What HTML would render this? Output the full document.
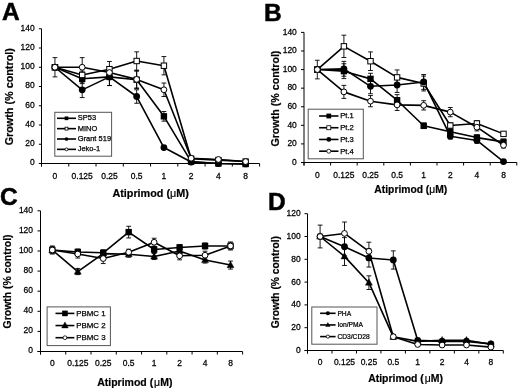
<!DOCTYPE html>
<html><head><meta charset="utf-8"><style>
html,body{margin:0;padding:0;background:#fff;}
svg{display:block;font-family:"Liberation Sans", sans-serif;}
svg{filter:grayscale(1);}
</style></head><body>
<svg width="520" height="391" viewBox="0 0 520 391" fill="#000">
<rect width="520" height="391" fill="#fff"/>
<line x1="41.5" y1="28.75" x2="41.5" y2="166.5" stroke="#000" stroke-width="1"/>
<line x1="38.9" y1="163.5" x2="259.6" y2="163.5" stroke="#000" stroke-width="1"/>
<line x1="38.9" y1="163.5" x2="41.5" y2="163.5" stroke="#000" stroke-width="1"/>
<text transform="translate(34.6,165.4) scale(1.02,1)" font-size="8.3" text-anchor="end" font-weight="normal" stroke="#000" stroke-width="0.25" >0</text>
<line x1="38.9" y1="144.25" x2="41.5" y2="144.25" stroke="#000" stroke-width="1"/>
<text transform="translate(34.6,146.15) scale(1.02,1)" font-size="8.3" text-anchor="end" font-weight="normal" stroke="#000" stroke-width="0.25" >20</text>
<line x1="38.9" y1="125" x2="41.5" y2="125" stroke="#000" stroke-width="1"/>
<text transform="translate(34.6,126.9) scale(1.02,1)" font-size="8.3" text-anchor="end" font-weight="normal" stroke="#000" stroke-width="0.25" >40</text>
<line x1="38.9" y1="105.75" x2="41.5" y2="105.75" stroke="#000" stroke-width="1"/>
<text transform="translate(34.6,107.65) scale(1.02,1)" font-size="8.3" text-anchor="end" font-weight="normal" stroke="#000" stroke-width="0.25" >60</text>
<line x1="38.9" y1="86.5" x2="41.5" y2="86.5" stroke="#000" stroke-width="1"/>
<text transform="translate(34.6,88.4) scale(1.02,1)" font-size="8.3" text-anchor="end" font-weight="normal" stroke="#000" stroke-width="0.25" >80</text>
<line x1="38.9" y1="67.25" x2="41.5" y2="67.25" stroke="#000" stroke-width="1"/>
<text transform="translate(34.6,69.15) scale(1.02,1)" font-size="8.3" text-anchor="end" font-weight="normal" stroke="#000" stroke-width="0.25" >100</text>
<line x1="38.9" y1="48" x2="41.5" y2="48" stroke="#000" stroke-width="1"/>
<text transform="translate(34.6,49.9) scale(1.02,1)" font-size="8.3" text-anchor="end" font-weight="normal" stroke="#000" stroke-width="0.25" >120</text>
<line x1="38.9" y1="28.75" x2="41.5" y2="28.75" stroke="#000" stroke-width="1"/>
<text transform="translate(34.6,30.65) scale(1.02,1)" font-size="8.3" text-anchor="end" font-weight="normal" stroke="#000" stroke-width="0.25" >140</text>
<line x1="41.5" y1="163.5" x2="41.5" y2="166.5" stroke="#000" stroke-width="1"/>
<line x1="68.76" y1="163.5" x2="68.76" y2="166.5" stroke="#000" stroke-width="1"/>
<line x1="96.03" y1="163.5" x2="96.03" y2="166.5" stroke="#000" stroke-width="1"/>
<line x1="123.29" y1="163.5" x2="123.29" y2="166.5" stroke="#000" stroke-width="1"/>
<line x1="150.55" y1="163.5" x2="150.55" y2="166.5" stroke="#000" stroke-width="1"/>
<line x1="177.81" y1="163.5" x2="177.81" y2="166.5" stroke="#000" stroke-width="1"/>
<line x1="205.08" y1="163.5" x2="205.08" y2="166.5" stroke="#000" stroke-width="1"/>
<line x1="232.34" y1="163.5" x2="232.34" y2="166.5" stroke="#000" stroke-width="1"/>
<line x1="259.6" y1="163.5" x2="259.6" y2="166.5" stroke="#000" stroke-width="1"/>
<text transform="translate(54.95,178.5) scale(1.02,1)" font-size="8.3" text-anchor="middle" font-weight="normal" stroke="#000" stroke-width="0.25" >0</text>
<text transform="translate(82.19,178.5) scale(1.02,1)" font-size="8.3" text-anchor="middle" font-weight="normal" stroke="#000" stroke-width="0.25" >0.125</text>
<text transform="translate(109.43,178.5) scale(1.02,1)" font-size="8.3" text-anchor="middle" font-weight="normal" stroke="#000" stroke-width="0.25" >0.25</text>
<text transform="translate(136.67,178.5) scale(1.02,1)" font-size="8.3" text-anchor="middle" font-weight="normal" stroke="#000" stroke-width="0.25" >0.5</text>
<text transform="translate(163.91,178.5) scale(1.02,1)" font-size="8.3" text-anchor="middle" font-weight="normal" stroke="#000" stroke-width="0.25" >1</text>
<text transform="translate(191.15,178.5) scale(1.02,1)" font-size="8.3" text-anchor="middle" font-weight="normal" stroke="#000" stroke-width="0.25" >2</text>
<text transform="translate(218.39,178.5) scale(1.02,1)" font-size="8.3" text-anchor="middle" font-weight="normal" stroke="#000" stroke-width="0.25" >4</text>
<text transform="translate(245.63,178.5) scale(1.02,1)" font-size="8.3" text-anchor="middle" font-weight="normal" stroke="#000" stroke-width="0.25" >8</text>
<text transform="translate(150.6,197.3) scale(1,1)" font-size="10.8" text-anchor="middle" font-weight="bold" stroke="#000" stroke-width="0.2" >Atiprimod (<tspan font-weight="normal">&#956;</tspan>M)</text>
<text transform="translate(13,96.75) rotate(-90) scale(1,1)" font-size="10.8" text-anchor="middle" font-weight="bold" stroke="#000" stroke-width="0.2">Growth (% control)</text>
<text transform="translate(2,19.6) scale(1,1)" font-size="24.5" text-anchor="start" font-weight="bold" stroke="#000" stroke-width="0.5">A</text>
<polyline points="54.95,67.25 82.19,78.8 109.43,76.88 136.67,79.76 163.91,116.34 191.15,161.57 218.39,163.5 245.63,163.98" fill="none" stroke="#000" stroke-width="1.6" stroke-linejoin="round"/>
<polyline points="54.95,67.25 82.19,74.95 109.43,69.17 136.67,60.99 163.91,65.71 191.15,158.69 218.39,160.13 245.63,161.57" fill="none" stroke="#000" stroke-width="1.6" stroke-linejoin="round"/>
<polyline points="54.95,67.25 82.19,89.87 109.43,76.88 136.67,96.51 163.91,147.52 191.15,162.06 218.39,163.5 245.63,163.98" fill="none" stroke="#000" stroke-width="1.6" stroke-linejoin="round"/>
<polyline points="54.95,67.25 82.19,67.25 109.43,72.54 136.67,79.38 163.91,89.77 191.15,158.21 218.39,159.46 245.63,161.57" fill="none" stroke="#000" stroke-width="1.6" stroke-linejoin="round"/>
<path d="M82.19,73.99V83.61M79.79,73.99H84.59M79.79,83.61H84.59" stroke="#000" stroke-width="0.9" fill="none"/>
<path d="M109.43,68.21V85.54M107.03,68.21H111.83M107.03,85.54H111.83" stroke="#000" stroke-width="0.9" fill="none"/>
<path d="M136.67,71.1V88.42M134.27,71.1H139.07M134.27,88.42H139.07" stroke="#000" stroke-width="0.9" fill="none"/>
<path d="M163.91,111.53V121.15M161.51,111.53H166.31M161.51,121.15H166.31" stroke="#000" stroke-width="0.9" fill="none"/>
<path d="M82.19,71.1V78.8M79.79,71.1H84.59M79.79,78.8H84.59" stroke="#000" stroke-width="0.9" fill="none"/>
<path d="M109.43,61.47V76.88M107.03,61.47H111.83M107.03,76.88H111.83" stroke="#000" stroke-width="0.9" fill="none"/>
<path d="M136.67,51.85V70.14M134.27,51.85H139.07M134.27,70.14H139.07" stroke="#000" stroke-width="0.9" fill="none"/>
<path d="M163.91,56.57V74.85M161.51,56.57H166.31M161.51,74.85H166.31" stroke="#000" stroke-width="0.9" fill="none"/>
<path d="M82.19,82.17V97.57M79.79,82.17H84.59M79.79,97.57H84.59" stroke="#000" stroke-width="0.9" fill="none"/>
<path d="M109.43,68.21V85.54M107.03,68.21H111.83M107.03,85.54H111.83" stroke="#000" stroke-width="0.9" fill="none"/>
<path d="M136.67,89.77V103.25M134.27,89.77H139.07M134.27,103.25H139.07" stroke="#000" stroke-width="0.9" fill="none"/>
<path d="M163.91,145.6V149.45M161.51,145.6H166.31M161.51,149.45H166.31" stroke="#000" stroke-width="0.9" fill="none"/>
<path d="M54.95,57.62V76.88M52.55,57.62H57.35M52.55,76.88H57.35" stroke="#000" stroke-width="0.9" fill="none"/>
<path d="M82.19,57.62V76.88M79.79,57.62H84.59M79.79,76.88H84.59" stroke="#000" stroke-width="0.9" fill="none"/>
<path d="M109.43,66.77V78.32M107.03,66.77H111.83M107.03,78.32H111.83" stroke="#000" stroke-width="0.9" fill="none"/>
<path d="M136.67,70.71V88.04M134.27,70.71H139.07M134.27,88.04H139.07" stroke="#000" stroke-width="0.9" fill="none"/>
<path d="M163.91,83.03V96.51M161.51,83.03H166.31M161.51,96.51H166.31" stroke="#000" stroke-width="0.9" fill="none"/>
<rect x="51.75" y="64.05" width="6.4" height="6.4" fill="#000"/>
<rect x="78.99" y="75.6" width="6.4" height="6.4" fill="#000"/>
<rect x="106.23" y="73.67" width="6.4" height="6.4" fill="#000"/>
<rect x="133.47" y="76.56" width="6.4" height="6.4" fill="#000"/>
<rect x="160.71" y="113.14" width="6.4" height="6.4" fill="#000"/>
<rect x="187.95" y="158.38" width="6.4" height="6.4" fill="#000"/>
<rect x="215.19" y="160.3" width="6.4" height="6.4" fill="#000"/>
<rect x="242.43" y="160.78" width="6.4" height="6.4" fill="#000"/>
<rect x="52.25" y="64.55" width="5.4" height="5.4" fill="#fff" stroke="#000" stroke-width="1.0"/>
<rect x="79.49" y="72.25" width="5.4" height="5.4" fill="#fff" stroke="#000" stroke-width="1.0"/>
<rect x="106.73" y="66.47" width="5.4" height="5.4" fill="#fff" stroke="#000" stroke-width="1.0"/>
<rect x="133.97" y="58.29" width="5.4" height="5.4" fill="#fff" stroke="#000" stroke-width="1.0"/>
<rect x="161.21" y="63.01" width="5.4" height="5.4" fill="#fff" stroke="#000" stroke-width="1.0"/>
<rect x="188.45" y="155.99" width="5.4" height="5.4" fill="#fff" stroke="#000" stroke-width="1.0"/>
<rect x="215.69" y="157.43" width="5.4" height="5.4" fill="#fff" stroke="#000" stroke-width="1.0"/>
<rect x="242.93" y="158.88" width="5.4" height="5.4" fill="#fff" stroke="#000" stroke-width="1.0"/>
<circle cx="54.95" cy="67.25" r="3.39" fill="#000"/>
<circle cx="82.19" cy="89.87" r="3.39" fill="#000"/>
<circle cx="109.43" cy="76.88" r="3.39" fill="#000"/>
<circle cx="136.67" cy="96.51" r="3.39" fill="#000"/>
<circle cx="163.91" cy="147.52" r="3.39" fill="#000"/>
<circle cx="191.15" cy="162.06" r="3.39" fill="#000"/>
<circle cx="218.39" cy="163.5" r="3.39" fill="#000"/>
<circle cx="245.63" cy="163.98" r="3.39" fill="#000"/>
<circle cx="54.95" cy="67.25" r="2.89" fill="#fff" stroke="#000" stroke-width="1.0"/>
<circle cx="82.19" cy="67.25" r="2.89" fill="#fff" stroke="#000" stroke-width="1.0"/>
<circle cx="109.43" cy="72.54" r="2.89" fill="#fff" stroke="#000" stroke-width="1.0"/>
<circle cx="136.67" cy="79.38" r="2.89" fill="#fff" stroke="#000" stroke-width="1.0"/>
<circle cx="163.91" cy="89.77" r="2.89" fill="#fff" stroke="#000" stroke-width="1.0"/>
<circle cx="191.15" cy="158.21" r="2.89" fill="#fff" stroke="#000" stroke-width="1.0"/>
<circle cx="218.39" cy="159.46" r="2.89" fill="#fff" stroke="#000" stroke-width="1.0"/>
<circle cx="245.63" cy="161.57" r="2.89" fill="#fff" stroke="#000" stroke-width="1.0"/>
<rect x="54.8" y="112.3" width="56.8" height="43.9" fill="#fff" stroke="#555" stroke-width="1"/>
<line x1="57" y1="118.3" x2="76" y2="118.3" stroke="#000" stroke-width="1.6"/>
<rect x="64.65" y="116.45" width="3.7" height="3.7" fill="#000"/>
<text transform="translate(77.7,120.4) scale(1,1)" font-size="7.5" text-anchor="start" font-weight="normal" stroke="#000" stroke-width="0.25" >SP53</text>
<line x1="57" y1="128.65" x2="76" y2="128.65" stroke="#000" stroke-width="1.6"/>
<rect x="65.05" y="127.2" width="2.9" height="2.9" fill="#fff" stroke="#000" stroke-width="0.8"/>
<text transform="translate(77.7,130.75) scale(1,1)" font-size="7.5" text-anchor="start" font-weight="normal" stroke="#000" stroke-width="0.25" >MINO</text>
<line x1="57" y1="139" x2="76" y2="139" stroke="#000" stroke-width="1.6"/>
<circle cx="66.5" cy="139" r="1.85" fill="#000"/>
<text transform="translate(77.7,141.1) scale(1,1)" font-size="7.5" text-anchor="start" font-weight="normal" stroke="#000" stroke-width="0.25" >Grant 519</text>
<line x1="57" y1="149.35" x2="76" y2="149.35" stroke="#000" stroke-width="1.6"/>
<circle cx="66.5" cy="149.35" r="1.45" fill="#fff" stroke="#000" stroke-width="0.8"/>
<text transform="translate(77.7,151.45) scale(1,1)" font-size="7.5" text-anchor="start" font-weight="normal" stroke="#000" stroke-width="0.25" >Jeko-1</text>
<line x1="304" y1="32.4" x2="304" y2="165.5" stroke="#000" stroke-width="1"/>
<line x1="301" y1="162.5" x2="516.8" y2="162.5" stroke="#000" stroke-width="1"/>
<line x1="301" y1="162.5" x2="304" y2="162.5" stroke="#000" stroke-width="1"/>
<text transform="translate(296.8,164.7) scale(1.02,1)" font-size="8.3" text-anchor="end" font-weight="normal" stroke="#000" stroke-width="0.25" >0</text>
<line x1="301" y1="143.91" x2="304" y2="143.91" stroke="#000" stroke-width="1"/>
<text transform="translate(296.8,146.11) scale(1.02,1)" font-size="8.3" text-anchor="end" font-weight="normal" stroke="#000" stroke-width="0.25" >20</text>
<line x1="301" y1="125.33" x2="304" y2="125.33" stroke="#000" stroke-width="1"/>
<text transform="translate(296.8,127.53) scale(1.02,1)" font-size="8.3" text-anchor="end" font-weight="normal" stroke="#000" stroke-width="0.25" >40</text>
<line x1="301" y1="106.74" x2="304" y2="106.74" stroke="#000" stroke-width="1"/>
<text transform="translate(296.8,108.94) scale(1.02,1)" font-size="8.3" text-anchor="end" font-weight="normal" stroke="#000" stroke-width="0.25" >60</text>
<line x1="301" y1="88.16" x2="304" y2="88.16" stroke="#000" stroke-width="1"/>
<text transform="translate(296.8,90.36) scale(1.02,1)" font-size="8.3" text-anchor="end" font-weight="normal" stroke="#000" stroke-width="0.25" >80</text>
<line x1="301" y1="69.57" x2="304" y2="69.57" stroke="#000" stroke-width="1"/>
<text transform="translate(296.8,71.77) scale(1.02,1)" font-size="8.3" text-anchor="end" font-weight="normal" stroke="#000" stroke-width="0.25" >100</text>
<line x1="301" y1="50.98" x2="304" y2="50.98" stroke="#000" stroke-width="1"/>
<text transform="translate(296.8,53.18) scale(1.02,1)" font-size="8.3" text-anchor="end" font-weight="normal" stroke="#000" stroke-width="0.25" >120</text>
<line x1="301" y1="32.4" x2="304" y2="32.4" stroke="#000" stroke-width="1"/>
<text transform="translate(296.8,34.6) scale(1.02,1)" font-size="8.3" text-anchor="end" font-weight="normal" stroke="#000" stroke-width="0.25" >140</text>
<line x1="304" y1="162.5" x2="304" y2="165.5" stroke="#000" stroke-width="1"/>
<line x1="330.6" y1="162.5" x2="330.6" y2="165.5" stroke="#000" stroke-width="1"/>
<line x1="357.2" y1="162.5" x2="357.2" y2="165.5" stroke="#000" stroke-width="1"/>
<line x1="383.8" y1="162.5" x2="383.8" y2="165.5" stroke="#000" stroke-width="1"/>
<line x1="410.4" y1="162.5" x2="410.4" y2="165.5" stroke="#000" stroke-width="1"/>
<line x1="437" y1="162.5" x2="437" y2="165.5" stroke="#000" stroke-width="1"/>
<line x1="463.6" y1="162.5" x2="463.6" y2="165.5" stroke="#000" stroke-width="1"/>
<line x1="490.2" y1="162.5" x2="490.2" y2="165.5" stroke="#000" stroke-width="1"/>
<line x1="516.8" y1="162.5" x2="516.8" y2="165.5" stroke="#000" stroke-width="1"/>
<text transform="translate(317.3,177.8) scale(1.02,1)" font-size="8.3" text-anchor="middle" font-weight="normal" stroke="#000" stroke-width="0.25" >0</text>
<text transform="translate(343.9,177.8) scale(1.02,1)" font-size="8.3" text-anchor="middle" font-weight="normal" stroke="#000" stroke-width="0.25" >0.125</text>
<text transform="translate(370.5,177.8) scale(1.02,1)" font-size="8.3" text-anchor="middle" font-weight="normal" stroke="#000" stroke-width="0.25" >0.25</text>
<text transform="translate(397.1,177.8) scale(1.02,1)" font-size="8.3" text-anchor="middle" font-weight="normal" stroke="#000" stroke-width="0.25" >0.5</text>
<text transform="translate(423.7,177.8) scale(1.02,1)" font-size="8.3" text-anchor="middle" font-weight="normal" stroke="#000" stroke-width="0.25" >1</text>
<text transform="translate(450.3,177.8) scale(1.02,1)" font-size="8.3" text-anchor="middle" font-weight="normal" stroke="#000" stroke-width="0.25" >2</text>
<text transform="translate(476.9,177.8) scale(1.02,1)" font-size="8.3" text-anchor="middle" font-weight="normal" stroke="#000" stroke-width="0.25" >4</text>
<text transform="translate(503.5,177.8) scale(1.02,1)" font-size="8.3" text-anchor="middle" font-weight="normal" stroke="#000" stroke-width="0.25" >8</text>
<text transform="translate(410.8,193.3) scale(1,1)" font-size="10.3" text-anchor="middle" font-weight="bold" stroke="#000" stroke-width="0.2" >Atiprimod (<tspan font-weight="normal">&#956;</tspan>M)</text>
<text transform="translate(278.9,98.6) rotate(-90) scale(1,1)" font-size="10.68" text-anchor="middle" font-weight="bold" stroke="#000" stroke-width="0.2">Growth (% control)</text>
<text transform="translate(264,20.7) scale(1,1)" font-size="24.5" text-anchor="start" font-weight="bold" stroke="#000" stroke-width="0.5">B</text>
<polyline points="317.3,69.57 343.9,71.15 370.5,78.86 397.1,100.24 423.7,125.79 450.3,131.83 476.9,137.59 503.5,141.87" fill="none" stroke="#000" stroke-width="1.6" stroke-linejoin="round"/>
<polyline points="317.3,69.57 343.9,46.34 370.5,61.21 397.1,77.38 423.7,83.51 450.3,125.51 476.9,123.47 503.5,133.88" fill="none" stroke="#000" stroke-width="1.6" stroke-linejoin="round"/>
<polyline points="317.3,69.57 343.9,68.83 370.5,86.3 397.1,85 423.7,81.93 450.3,136.2 476.9,140.48 503.5,161.57" fill="none" stroke="#000" stroke-width="1.6" stroke-linejoin="round"/>
<polyline points="317.3,69.57 343.9,91.87 370.5,101.17 397.1,104.88 423.7,105.35 450.3,112.13 476.9,127.19 503.5,145.22" fill="none" stroke="#000" stroke-width="1.6" stroke-linejoin="round"/>
<path d="M343.9,63.72V78.58M341.5,63.72H346.3M341.5,78.58H346.3" stroke="#000" stroke-width="0.9" fill="none"/>
<path d="M370.5,73.29V84.44M368.1,73.29H372.9M368.1,84.44H372.9" stroke="#000" stroke-width="0.9" fill="none"/>
<path d="M397.1,94.66V105.81M394.7,94.66H399.5M394.7,105.81H399.5" stroke="#000" stroke-width="0.9" fill="none"/>
<path d="M423.7,123V128.58M421.3,123H426.1M421.3,128.58H426.1" stroke="#000" stroke-width="0.9" fill="none"/>
<path d="M450.3,129.05V134.62M447.9,129.05H452.7M447.9,134.62H452.7" stroke="#000" stroke-width="0.9" fill="none"/>
<path d="M476.9,134.81V140.38M474.5,134.81H479.3M474.5,140.38H479.3" stroke="#000" stroke-width="0.9" fill="none"/>
<path d="M503.5,139.08V144.66M501.1,139.08H505.9M501.1,144.66H505.9" stroke="#000" stroke-width="0.9" fill="none"/>
<path d="M343.9,35.19V57.49M341.5,35.19H346.3M341.5,57.49H346.3" stroke="#000" stroke-width="0.9" fill="none"/>
<path d="M370.5,51.91V70.5M368.1,51.91H372.9M368.1,70.5H372.9" stroke="#000" stroke-width="0.9" fill="none"/>
<path d="M397.1,69.94V84.81M394.7,69.94H399.5M394.7,84.81H399.5" stroke="#000" stroke-width="0.9" fill="none"/>
<path d="M423.7,76.08V90.94M421.3,76.08H426.1M421.3,90.94H426.1" stroke="#000" stroke-width="0.9" fill="none"/>
<path d="M450.3,122.73V128.3M447.9,122.73H452.7M447.9,128.3H452.7" stroke="#000" stroke-width="0.9" fill="none"/>
<path d="M476.9,120.68V126.26M474.5,120.68H479.3M474.5,126.26H479.3" stroke="#000" stroke-width="0.9" fill="none"/>
<path d="M503.5,132.02V135.74M501.1,132.02H505.9M501.1,135.74H505.9" stroke="#000" stroke-width="0.9" fill="none"/>
<path d="M343.9,61.39V76.26M341.5,61.39H346.3M341.5,76.26H346.3" stroke="#000" stroke-width="0.9" fill="none"/>
<path d="M370.5,78.86V93.73M368.1,78.86H372.9M368.1,93.73H372.9" stroke="#000" stroke-width="0.9" fill="none"/>
<path d="M397.1,77.56V92.43M394.7,77.56H399.5M394.7,92.43H399.5" stroke="#000" stroke-width="0.9" fill="none"/>
<path d="M423.7,74.5V89.36M421.3,74.5H426.1M421.3,89.36H426.1" stroke="#000" stroke-width="0.9" fill="none"/>
<path d="M450.3,133.41V138.99M447.9,133.41H452.7M447.9,138.99H452.7" stroke="#000" stroke-width="0.9" fill="none"/>
<path d="M476.9,137.69V143.26M474.5,137.69H479.3M474.5,143.26H479.3" stroke="#000" stroke-width="0.9" fill="none"/>
<path d="M503.5,160.64V162.5M501.1,160.64H505.9M501.1,162.5H505.9" stroke="#000" stroke-width="0.9" fill="none"/>
<path d="M317.3,60.28V78.86M314.9,60.28H319.7M314.9,78.86H319.7" stroke="#000" stroke-width="0.9" fill="none"/>
<path d="M343.9,85.37V98.38M341.5,85.37H346.3M341.5,98.38H346.3" stroke="#000" stroke-width="0.9" fill="none"/>
<path d="M370.5,95.59V106.74M368.1,95.59H372.9M368.1,106.74H372.9" stroke="#000" stroke-width="0.9" fill="none"/>
<path d="M397.1,99.31V110.46M394.7,99.31H399.5M394.7,110.46H399.5" stroke="#000" stroke-width="0.9" fill="none"/>
<path d="M423.7,100.7V109.99M421.3,100.7H426.1M421.3,109.99H426.1" stroke="#000" stroke-width="0.9" fill="none"/>
<path d="M450.3,107.49V116.78M447.9,107.49H452.7M447.9,116.78H452.7" stroke="#000" stroke-width="0.9" fill="none"/>
<path d="M476.9,123.47V130.9M474.5,123.47H479.3M474.5,130.9H479.3" stroke="#000" stroke-width="0.9" fill="none"/>
<path d="M503.5,142.43V148M501.1,142.43H505.9M501.1,148H505.9" stroke="#000" stroke-width="0.9" fill="none"/>
<rect x="314.1" y="66.37" width="6.4" height="6.4" fill="#000"/>
<rect x="340.7" y="67.95" width="6.4" height="6.4" fill="#000"/>
<rect x="367.3" y="75.66" width="6.4" height="6.4" fill="#000"/>
<rect x="393.9" y="97.04" width="6.4" height="6.4" fill="#000"/>
<rect x="420.5" y="122.59" width="6.4" height="6.4" fill="#000"/>
<rect x="447.1" y="128.63" width="6.4" height="6.4" fill="#000"/>
<rect x="473.7" y="134.39" width="6.4" height="6.4" fill="#000"/>
<rect x="500.3" y="138.67" width="6.4" height="6.4" fill="#000"/>
<rect x="314.6" y="66.87" width="5.4" height="5.4" fill="#fff" stroke="#000" stroke-width="1.0"/>
<rect x="341.2" y="43.64" width="5.4" height="5.4" fill="#fff" stroke="#000" stroke-width="1.0"/>
<rect x="367.8" y="58.51" width="5.4" height="5.4" fill="#fff" stroke="#000" stroke-width="1.0"/>
<rect x="394.4" y="74.68" width="5.4" height="5.4" fill="#fff" stroke="#000" stroke-width="1.0"/>
<rect x="421" y="80.81" width="5.4" height="5.4" fill="#fff" stroke="#000" stroke-width="1.0"/>
<rect x="447.6" y="122.81" width="5.4" height="5.4" fill="#fff" stroke="#000" stroke-width="1.0"/>
<rect x="474.2" y="120.77" width="5.4" height="5.4" fill="#fff" stroke="#000" stroke-width="1.0"/>
<rect x="500.8" y="131.18" width="5.4" height="5.4" fill="#fff" stroke="#000" stroke-width="1.0"/>
<circle cx="317.3" cy="69.57" r="3.39" fill="#000"/>
<circle cx="343.9" cy="68.83" r="3.39" fill="#000"/>
<circle cx="370.5" cy="86.3" r="3.39" fill="#000"/>
<circle cx="397.1" cy="85" r="3.39" fill="#000"/>
<circle cx="423.7" cy="81.93" r="3.39" fill="#000"/>
<circle cx="450.3" cy="136.2" r="3.39" fill="#000"/>
<circle cx="476.9" cy="140.48" r="3.39" fill="#000"/>
<circle cx="503.5" cy="161.57" r="3.39" fill="#000"/>
<circle cx="317.3" cy="69.57" r="2.89" fill="#fff" stroke="#000" stroke-width="1.0"/>
<circle cx="343.9" cy="91.87" r="2.89" fill="#fff" stroke="#000" stroke-width="1.0"/>
<circle cx="370.5" cy="101.17" r="2.89" fill="#fff" stroke="#000" stroke-width="1.0"/>
<circle cx="397.1" cy="104.88" r="2.89" fill="#fff" stroke="#000" stroke-width="1.0"/>
<circle cx="423.7" cy="105.35" r="2.89" fill="#fff" stroke="#000" stroke-width="1.0"/>
<circle cx="450.3" cy="112.13" r="2.89" fill="#fff" stroke="#000" stroke-width="1.0"/>
<circle cx="476.9" cy="127.19" r="2.89" fill="#fff" stroke="#000" stroke-width="1.0"/>
<circle cx="503.5" cy="145.22" r="2.89" fill="#fff" stroke="#000" stroke-width="1.0"/>
<rect x="308.2" y="109.2" width="55.1" height="49.6" fill="#fff" stroke="#555" stroke-width="1"/>
<line x1="319.1" y1="116" x2="338.5" y2="116" stroke="#000" stroke-width="1.6"/>
<rect x="326.4" y="113.6" width="4.8" height="4.8" fill="#000"/>
<text transform="translate(340.3,118.4) scale(1,1)" font-size="7.6" text-anchor="start" font-weight="normal" stroke="#000" stroke-width="0.25" >Pt.1</text>
<line x1="319.1" y1="127.73" x2="338.5" y2="127.73" stroke="#000" stroke-width="1.6"/>
<rect x="326.8" y="125.73" width="4" height="4" fill="#fff" stroke="#000" stroke-width="0.8"/>
<text transform="translate(340.3,130.13) scale(1,1)" font-size="7.6" text-anchor="start" font-weight="normal" stroke="#000" stroke-width="0.25" >Pt.2</text>
<line x1="319.1" y1="139.46" x2="338.5" y2="139.46" stroke="#000" stroke-width="1.6"/>
<circle cx="328.8" cy="139.46" r="2.4" fill="#000"/>
<text transform="translate(340.3,141.86) scale(1,1)" font-size="7.6" text-anchor="start" font-weight="normal" stroke="#000" stroke-width="0.25" >Pt.3</text>
<line x1="319.1" y1="151.19" x2="338.5" y2="151.19" stroke="#000" stroke-width="1.6"/>
<circle cx="328.8" cy="151.19" r="2" fill="#fff" stroke="#000" stroke-width="0.8"/>
<text transform="translate(340.3,153.59) scale(1,1)" font-size="7.6" text-anchor="start" font-weight="normal" stroke="#000" stroke-width="0.25" >Pt.4</text>
<line x1="40.5" y1="210.8" x2="40.5" y2="354.5" stroke="#000" stroke-width="1"/>
<line x1="37.5" y1="351.5" x2="242.6" y2="351.5" stroke="#000" stroke-width="1"/>
<line x1="37.5" y1="351.5" x2="40.5" y2="351.5" stroke="#000" stroke-width="1"/>
<text transform="translate(33,353.4) scale(1.02,1)" font-size="8.3" text-anchor="end" font-weight="normal" stroke="#000" stroke-width="0.25" >0</text>
<line x1="37.5" y1="331.4" x2="40.5" y2="331.4" stroke="#000" stroke-width="1"/>
<text transform="translate(33,333.3) scale(1.02,1)" font-size="8.3" text-anchor="end" font-weight="normal" stroke="#000" stroke-width="0.25" >20</text>
<line x1="37.5" y1="311.3" x2="40.5" y2="311.3" stroke="#000" stroke-width="1"/>
<text transform="translate(33,313.2) scale(1.02,1)" font-size="8.3" text-anchor="end" font-weight="normal" stroke="#000" stroke-width="0.25" >40</text>
<line x1="37.5" y1="291.2" x2="40.5" y2="291.2" stroke="#000" stroke-width="1"/>
<text transform="translate(33,293.1) scale(1.02,1)" font-size="8.3" text-anchor="end" font-weight="normal" stroke="#000" stroke-width="0.25" >60</text>
<line x1="37.5" y1="271.1" x2="40.5" y2="271.1" stroke="#000" stroke-width="1"/>
<text transform="translate(33,273) scale(1.02,1)" font-size="8.3" text-anchor="end" font-weight="normal" stroke="#000" stroke-width="0.25" >80</text>
<line x1="37.5" y1="251" x2="40.5" y2="251" stroke="#000" stroke-width="1"/>
<text transform="translate(33,252.9) scale(1.02,1)" font-size="8.3" text-anchor="end" font-weight="normal" stroke="#000" stroke-width="0.25" >100</text>
<line x1="37.5" y1="230.9" x2="40.5" y2="230.9" stroke="#000" stroke-width="1"/>
<text transform="translate(33,232.8) scale(1.02,1)" font-size="8.3" text-anchor="end" font-weight="normal" stroke="#000" stroke-width="0.25" >120</text>
<line x1="37.5" y1="210.8" x2="40.5" y2="210.8" stroke="#000" stroke-width="1"/>
<text transform="translate(33,212.7) scale(1.02,1)" font-size="8.3" text-anchor="end" font-weight="normal" stroke="#000" stroke-width="0.25" >140</text>
<line x1="40.5" y1="351.5" x2="40.5" y2="354.5" stroke="#000" stroke-width="1"/>
<line x1="65.76" y1="351.5" x2="65.76" y2="354.5" stroke="#000" stroke-width="1"/>
<line x1="91.03" y1="351.5" x2="91.03" y2="354.5" stroke="#000" stroke-width="1"/>
<line x1="116.29" y1="351.5" x2="116.29" y2="354.5" stroke="#000" stroke-width="1"/>
<line x1="141.55" y1="351.5" x2="141.55" y2="354.5" stroke="#000" stroke-width="1"/>
<line x1="166.81" y1="351.5" x2="166.81" y2="354.5" stroke="#000" stroke-width="1"/>
<line x1="192.07" y1="351.5" x2="192.07" y2="354.5" stroke="#000" stroke-width="1"/>
<line x1="217.34" y1="351.5" x2="217.34" y2="354.5" stroke="#000" stroke-width="1"/>
<line x1="242.6" y1="351.5" x2="242.6" y2="354.5" stroke="#000" stroke-width="1"/>
<text transform="translate(52.3,366.2) scale(1.02,1)" font-size="8.3" text-anchor="middle" font-weight="normal" stroke="#000" stroke-width="0.25" >0</text>
<text transform="translate(77.76,366.2) scale(1.02,1)" font-size="8.3" text-anchor="middle" font-weight="normal" stroke="#000" stroke-width="0.25" >0.125</text>
<text transform="translate(103.22,366.2) scale(1.02,1)" font-size="8.3" text-anchor="middle" font-weight="normal" stroke="#000" stroke-width="0.25" >0.25</text>
<text transform="translate(128.68,366.2) scale(1.02,1)" font-size="8.3" text-anchor="middle" font-weight="normal" stroke="#000" stroke-width="0.25" >0.5</text>
<text transform="translate(154.14,366.2) scale(1.02,1)" font-size="8.3" text-anchor="middle" font-weight="normal" stroke="#000" stroke-width="0.25" >1</text>
<text transform="translate(179.6,366.2) scale(1.02,1)" font-size="8.3" text-anchor="middle" font-weight="normal" stroke="#000" stroke-width="0.25" >2</text>
<text transform="translate(205.06,366.2) scale(1.02,1)" font-size="8.3" text-anchor="middle" font-weight="normal" stroke="#000" stroke-width="0.25" >4</text>
<text transform="translate(230.52,366.2) scale(1.02,1)" font-size="8.3" text-anchor="middle" font-weight="normal" stroke="#000" stroke-width="0.25" >8</text>
<text transform="translate(134.8,386.3) scale(1,1)" font-size="10.5" text-anchor="middle" font-weight="bold" stroke="#000" stroke-width="0.2" >Atiprimod (&#8202;<tspan font-weight="normal">&#956;</tspan>M)</text>
<text transform="translate(10.6,281.45) rotate(-90) scale(1,1)" font-size="10.45" text-anchor="middle" font-weight="bold" stroke="#000" stroke-width="0.2">Growth (% control)</text>
<text transform="translate(0,205) scale(1,1)" font-size="24.5" text-anchor="start" font-weight="bold" stroke="#000" stroke-width="0.5">C</text>
<polyline points="52.3,250 77.76,252 103.22,252.81 128.68,232.11 154.14,249.49 179.6,247.48 205.06,245.98 230.52,245.98" fill="none" stroke="#000" stroke-width="1.6" stroke-linejoin="round"/>
<polyline points="52.3,250 77.76,271.6 103.22,253.61 128.68,254.22 154.14,256.53 179.6,251 205.06,260.05 230.52,265.07" fill="none" stroke="#000" stroke-width="1.6" stroke-linejoin="round"/>
<polyline points="52.3,250 77.76,254.02 103.22,258.54 128.68,252.21 154.14,242.26 179.6,255.82 205.06,255.22 230.52,245.98" fill="none" stroke="#000" stroke-width="1.6" stroke-linejoin="round"/>
<path d="M52.3,246.98V253.01M49.9,246.98H54.7M49.9,253.01H54.7" stroke="#000" stroke-width="0.9" fill="none"/>
<path d="M77.76,248.99V255.02M75.36,248.99H80.16M75.36,255.02H80.16" stroke="#000" stroke-width="0.9" fill="none"/>
<path d="M103.22,249.79V255.82M100.82,249.79H105.62M100.82,255.82H105.62" stroke="#000" stroke-width="0.9" fill="none"/>
<path d="M128.68,226.28V237.94M126.28,226.28H131.08M126.28,237.94H131.08" stroke="#000" stroke-width="0.9" fill="none"/>
<path d="M154.14,246.48V252.51M151.74,246.48H156.54M151.74,252.51H156.54" stroke="#000" stroke-width="0.9" fill="none"/>
<path d="M179.6,244.47V250.5M177.2,244.47H182M177.2,250.5H182" stroke="#000" stroke-width="0.9" fill="none"/>
<path d="M205.06,242.96V248.99M202.66,242.96H207.46M202.66,248.99H207.46" stroke="#000" stroke-width="0.9" fill="none"/>
<path d="M230.52,242.96V248.99M228.12,242.96H232.92M228.12,248.99H232.92" stroke="#000" stroke-width="0.9" fill="none"/>
<path d="M52.3,246.98V253.01M49.9,246.98H54.7M49.9,253.01H54.7" stroke="#000" stroke-width="0.9" fill="none"/>
<path d="M77.76,268.59V274.62M75.36,268.59H80.16M75.36,274.62H80.16" stroke="#000" stroke-width="0.9" fill="none"/>
<path d="M103.22,250.6V256.63M100.82,250.6H105.62M100.82,256.63H105.62" stroke="#000" stroke-width="0.9" fill="none"/>
<path d="M128.68,251.2V257.23M126.28,251.2H131.08M126.28,257.23H131.08" stroke="#000" stroke-width="0.9" fill="none"/>
<path d="M154.14,253.51V259.54M151.74,253.51H156.54M151.74,259.54H156.54" stroke="#000" stroke-width="0.9" fill="none"/>
<path d="M179.6,247.99V254.02M177.2,247.99H182M177.2,254.02H182" stroke="#000" stroke-width="0.9" fill="none"/>
<path d="M205.06,257.03V263.06M202.66,257.03H207.46M202.66,263.06H207.46" stroke="#000" stroke-width="0.9" fill="none"/>
<path d="M230.52,261.05V269.09M228.12,261.05H232.92M228.12,269.09H232.92" stroke="#000" stroke-width="0.9" fill="none"/>
<path d="M52.3,245.98V254.02M49.9,245.98H54.7M49.9,254.02H54.7" stroke="#000" stroke-width="0.9" fill="none"/>
<path d="M77.76,250V258.04M75.36,250H80.16M75.36,258.04H80.16" stroke="#000" stroke-width="0.9" fill="none"/>
<path d="M103.22,253.51V263.56M100.82,253.51H105.62M100.82,263.56H105.62" stroke="#000" stroke-width="0.9" fill="none"/>
<path d="M128.68,249.19V255.22M126.28,249.19H131.08M126.28,255.22H131.08" stroke="#000" stroke-width="0.9" fill="none"/>
<path d="M154.14,238.24V246.28M151.74,238.24H156.54M151.74,246.28H156.54" stroke="#000" stroke-width="0.9" fill="none"/>
<path d="M179.6,251.8V259.84M177.2,251.8H182M177.2,259.84H182" stroke="#000" stroke-width="0.9" fill="none"/>
<path d="M205.06,251.2V259.24M202.66,251.2H207.46M202.66,259.24H207.46" stroke="#000" stroke-width="0.9" fill="none"/>
<path d="M230.52,241.96V250M228.12,241.96H232.92M228.12,250H232.92" stroke="#000" stroke-width="0.9" fill="none"/>
<rect x="49.1" y="246.8" width="6.4" height="6.4" fill="#000"/>
<rect x="74.56" y="248.81" width="6.4" height="6.4" fill="#000"/>
<rect x="100.02" y="249.61" width="6.4" height="6.4" fill="#000"/>
<rect x="125.48" y="228.91" width="6.4" height="6.4" fill="#000"/>
<rect x="150.94" y="246.29" width="6.4" height="6.4" fill="#000"/>
<rect x="176.4" y="244.28" width="6.4" height="6.4" fill="#000"/>
<rect x="201.86" y="242.78" width="6.4" height="6.4" fill="#000"/>
<rect x="227.32" y="242.78" width="6.4" height="6.4" fill="#000"/>
<polygon points="52.3,246.16 55.82,252.56 48.78,252.56" fill="#000" stroke="#000" stroke-width="0.4" stroke-linejoin="round"/>
<polygon points="77.76,267.76 81.28,274.16 74.24,274.16" fill="#000" stroke="#000" stroke-width="0.4" stroke-linejoin="round"/>
<polygon points="103.22,249.77 106.74,256.17 99.7,256.17" fill="#000" stroke="#000" stroke-width="0.4" stroke-linejoin="round"/>
<polygon points="128.68,250.38 132.2,256.78 125.16,256.78" fill="#000" stroke="#000" stroke-width="0.4" stroke-linejoin="round"/>
<polygon points="154.14,252.69 157.66,259.09 150.62,259.09" fill="#000" stroke="#000" stroke-width="0.4" stroke-linejoin="round"/>
<polygon points="179.6,247.16 183.12,253.56 176.08,253.56" fill="#000" stroke="#000" stroke-width="0.4" stroke-linejoin="round"/>
<polygon points="205.06,256.21 208.58,262.61 201.54,262.61" fill="#000" stroke="#000" stroke-width="0.4" stroke-linejoin="round"/>
<polygon points="230.52,261.23 234.04,267.63 227,267.63" fill="#000" stroke="#000" stroke-width="0.4" stroke-linejoin="round"/>
<circle cx="52.3" cy="250" r="2.89" fill="#fff" stroke="#000" stroke-width="1.0"/>
<circle cx="77.76" cy="254.02" r="2.89" fill="#fff" stroke="#000" stroke-width="1.0"/>
<circle cx="103.22" cy="258.54" r="2.89" fill="#fff" stroke="#000" stroke-width="1.0"/>
<circle cx="128.68" cy="252.21" r="2.89" fill="#fff" stroke="#000" stroke-width="1.0"/>
<circle cx="154.14" cy="242.26" r="2.89" fill="#fff" stroke="#000" stroke-width="1.0"/>
<circle cx="179.6" cy="255.82" r="2.89" fill="#fff" stroke="#000" stroke-width="1.0"/>
<circle cx="205.06" cy="255.22" r="2.89" fill="#fff" stroke="#000" stroke-width="1.0"/>
<circle cx="230.52" cy="245.98" r="2.89" fill="#fff" stroke="#000" stroke-width="1.0"/>
<rect x="47.1" y="306.9" width="63.3" height="38.7" fill="#fff" stroke="#555" stroke-width="1"/>
<line x1="55.5" y1="313.4" x2="74.4" y2="313.4" stroke="#000" stroke-width="1.6"/>
<rect x="62.15" y="310.6" width="5.6" height="5.6" fill="#000"/>
<text transform="translate(76.2,315.7) scale(1,1)" font-size="7.9" text-anchor="start" font-weight="normal" stroke="#000" stroke-width="0.25" >PBMC 1</text>
<line x1="55.5" y1="325.55" x2="74.4" y2="325.55" stroke="#000" stroke-width="1.6"/>
<polygon points="64.95,321.95 68.25,327.95 61.65,327.95" fill="#000" stroke="#000" stroke-width="0.4" stroke-linejoin="round"/>
<text transform="translate(76.2,327.85) scale(1,1)" font-size="7.9" text-anchor="start" font-weight="normal" stroke="#000" stroke-width="0.25" >PBMC 2</text>
<line x1="55.5" y1="337.7" x2="74.4" y2="337.7" stroke="#000" stroke-width="1.6"/>
<circle cx="64.95" cy="337.7" r="1.9" fill="#fff" stroke="#000" stroke-width="0.8"/>
<text transform="translate(76.2,340) scale(1,1)" font-size="7.9" text-anchor="start" font-weight="normal" stroke="#000" stroke-width="0.25" >PBMC 3</text>
<line x1="307.5" y1="213.7" x2="307.5" y2="353.5" stroke="#000" stroke-width="1"/>
<line x1="304.5" y1="350.5" x2="503.3" y2="350.5" stroke="#000" stroke-width="1"/>
<line x1="304.5" y1="350.5" x2="307.5" y2="350.5" stroke="#000" stroke-width="1"/>
<text transform="translate(300.6,352.9) scale(1.02,1)" font-size="8.3" text-anchor="end" font-weight="normal" stroke="#000" stroke-width="0.25" >0</text>
<line x1="304.5" y1="327.7" x2="307.5" y2="327.7" stroke="#000" stroke-width="1"/>
<text transform="translate(300.6,330.1) scale(1.02,1)" font-size="8.3" text-anchor="end" font-weight="normal" stroke="#000" stroke-width="0.25" >20</text>
<line x1="304.5" y1="304.9" x2="307.5" y2="304.9" stroke="#000" stroke-width="1"/>
<text transform="translate(300.6,307.3) scale(1.02,1)" font-size="8.3" text-anchor="end" font-weight="normal" stroke="#000" stroke-width="0.25" >40</text>
<line x1="304.5" y1="282.1" x2="307.5" y2="282.1" stroke="#000" stroke-width="1"/>
<text transform="translate(300.6,284.5) scale(1.02,1)" font-size="8.3" text-anchor="end" font-weight="normal" stroke="#000" stroke-width="0.25" >60</text>
<line x1="304.5" y1="259.3" x2="307.5" y2="259.3" stroke="#000" stroke-width="1"/>
<text transform="translate(300.6,261.7) scale(1.02,1)" font-size="8.3" text-anchor="end" font-weight="normal" stroke="#000" stroke-width="0.25" >80</text>
<line x1="304.5" y1="236.5" x2="307.5" y2="236.5" stroke="#000" stroke-width="1"/>
<text transform="translate(300.6,238.9) scale(1.02,1)" font-size="8.3" text-anchor="end" font-weight="normal" stroke="#000" stroke-width="0.25" >100</text>
<line x1="304.5" y1="213.7" x2="307.5" y2="213.7" stroke="#000" stroke-width="1"/>
<text transform="translate(300.6,216.1) scale(1.02,1)" font-size="8.3" text-anchor="end" font-weight="normal" stroke="#000" stroke-width="0.25" >120</text>
<line x1="307.5" y1="350.5" x2="307.5" y2="353.5" stroke="#000" stroke-width="1"/>
<line x1="331.98" y1="350.5" x2="331.98" y2="353.5" stroke="#000" stroke-width="1"/>
<line x1="356.45" y1="350.5" x2="356.45" y2="353.5" stroke="#000" stroke-width="1"/>
<line x1="380.93" y1="350.5" x2="380.93" y2="353.5" stroke="#000" stroke-width="1"/>
<line x1="405.4" y1="350.5" x2="405.4" y2="353.5" stroke="#000" stroke-width="1"/>
<line x1="429.88" y1="350.5" x2="429.88" y2="353.5" stroke="#000" stroke-width="1"/>
<line x1="454.35" y1="350.5" x2="454.35" y2="353.5" stroke="#000" stroke-width="1"/>
<line x1="478.83" y1="350.5" x2="478.83" y2="353.5" stroke="#000" stroke-width="1"/>
<line x1="503.3" y1="350.5" x2="503.3" y2="353.5" stroke="#000" stroke-width="1"/>
<text transform="translate(320.1,365) scale(1.02,1)" font-size="8.3" text-anchor="middle" font-weight="normal" stroke="#000" stroke-width="0.25" >0</text>
<text transform="translate(344.5,365) scale(1.02,1)" font-size="8.3" text-anchor="middle" font-weight="normal" stroke="#000" stroke-width="0.25" >0.125</text>
<text transform="translate(368.9,365) scale(1.02,1)" font-size="8.3" text-anchor="middle" font-weight="normal" stroke="#000" stroke-width="0.25" >0.25</text>
<text transform="translate(393.3,365) scale(1.02,1)" font-size="8.3" text-anchor="middle" font-weight="normal" stroke="#000" stroke-width="0.25" >0.5</text>
<text transform="translate(417.7,365) scale(1.02,1)" font-size="8.3" text-anchor="middle" font-weight="normal" stroke="#000" stroke-width="0.25" >1</text>
<text transform="translate(442.1,365) scale(1.02,1)" font-size="8.3" text-anchor="middle" font-weight="normal" stroke="#000" stroke-width="0.25" >2</text>
<text transform="translate(466.5,365) scale(1.02,1)" font-size="8.3" text-anchor="middle" font-weight="normal" stroke="#000" stroke-width="0.25" >4</text>
<text transform="translate(490.9,365) scale(1.02,1)" font-size="8.3" text-anchor="middle" font-weight="normal" stroke="#000" stroke-width="0.25" >8</text>
<text transform="translate(405.5,382.3) scale(1,1)" font-size="10.45" text-anchor="middle" font-weight="bold" stroke="#000" stroke-width="0.2" >Atiprimod (&#8202;<tspan font-weight="normal">&#956;</tspan>M)</text>
<text transform="translate(278.9,282.15) rotate(-90) scale(1,1)" font-size="10.25" text-anchor="middle" font-weight="bold" stroke="#000" stroke-width="0.2">Growth (% control)</text>
<text transform="translate(268,209.8) scale(1,1)" font-size="24.5" text-anchor="start" font-weight="bold" stroke="#000" stroke-width="0.5">D</text>
<polyline points="320.1,236.5 344.5,246.76 368.9,257.93 393.3,259.98 417.7,340.35 442.1,341.38 466.5,341.38 490.9,343.89" fill="none" stroke="#000" stroke-width="1.6" stroke-linejoin="round"/>
<polyline points="320.1,236.5 344.5,256.34 368.9,282.67 393.3,336.82 417.7,341.38 442.1,340.24 466.5,340.24 490.9,344.23" fill="none" stroke="#000" stroke-width="1.6" stroke-linejoin="round"/>
<polyline points="320.1,236.5 344.5,233.42 368.9,251.32 393.3,336.71 417.7,344.46 442.1,345.03 466.5,345.03 490.9,347.08" fill="none" stroke="#000" stroke-width="1.6" stroke-linejoin="round"/>
<path d="M344.5,237.64V255.88M342.1,237.64H346.9M342.1,255.88H346.9" stroke="#000" stroke-width="0.9" fill="none"/>
<path d="M368.9,248.81V267.05M366.5,248.81H371.3M366.5,267.05H371.3" stroke="#000" stroke-width="0.9" fill="none"/>
<path d="M393.3,250.86V269.1M390.9,250.86H395.7M390.9,269.1H395.7" stroke="#000" stroke-width="0.9" fill="none"/>
<path d="M417.7,339.21V341.49M415.3,339.21H420.1M415.3,341.49H420.1" stroke="#000" stroke-width="0.9" fill="none"/>
<path d="M442.1,340.24V342.52M439.7,340.24H444.5M439.7,342.52H444.5" stroke="#000" stroke-width="0.9" fill="none"/>
<path d="M466.5,340.24V342.52M464.1,340.24H468.9M464.1,342.52H468.9" stroke="#000" stroke-width="0.9" fill="none"/>
<path d="M490.9,342.75V345.03M488.5,342.75H493.3M488.5,345.03H493.3" stroke="#000" stroke-width="0.9" fill="none"/>
<path d="M344.5,247.22V265.46M342.1,247.22H346.9M342.1,265.46H346.9" stroke="#000" stroke-width="0.9" fill="none"/>
<path d="M368.9,275.83V289.51M366.5,275.83H371.3M366.5,289.51H371.3" stroke="#000" stroke-width="0.9" fill="none"/>
<path d="M393.3,334.54V339.1M390.9,334.54H395.7M390.9,339.1H395.7" stroke="#000" stroke-width="0.9" fill="none"/>
<path d="M417.7,340.24V342.52M415.3,340.24H420.1M415.3,342.52H420.1" stroke="#000" stroke-width="0.9" fill="none"/>
<path d="M442.1,339.1V341.38M439.7,339.1H444.5M439.7,341.38H444.5" stroke="#000" stroke-width="0.9" fill="none"/>
<path d="M466.5,339.1V341.38M464.1,339.1H468.9M464.1,341.38H468.9" stroke="#000" stroke-width="0.9" fill="none"/>
<path d="M490.9,343.09V345.37M488.5,343.09H493.3M488.5,345.37H493.3" stroke="#000" stroke-width="0.9" fill="none"/>
<path d="M320.1,225.1V247.9M317.7,225.1H322.5M317.7,247.9H322.5" stroke="#000" stroke-width="0.9" fill="none"/>
<path d="M344.5,222.02V244.82M342.1,222.02H346.9M342.1,244.82H346.9" stroke="#000" stroke-width="0.9" fill="none"/>
<path d="M368.9,242.2V260.44M366.5,242.2H371.3M366.5,260.44H371.3" stroke="#000" stroke-width="0.9" fill="none"/>
<path d="M393.3,334.43V338.99M390.9,334.43H395.7M390.9,338.99H395.7" stroke="#000" stroke-width="0.9" fill="none"/>
<path d="M417.7,343.32V345.6M415.3,343.32H420.1M415.3,345.6H420.1" stroke="#000" stroke-width="0.9" fill="none"/>
<path d="M442.1,343.89V346.17M439.7,343.89H444.5M439.7,346.17H444.5" stroke="#000" stroke-width="0.9" fill="none"/>
<path d="M466.5,343.89V346.17M464.1,343.89H468.9M464.1,346.17H468.9" stroke="#000" stroke-width="0.9" fill="none"/>
<path d="M490.9,345.94V348.22M488.5,345.94H493.3M488.5,348.22H493.3" stroke="#000" stroke-width="0.9" fill="none"/>
<circle cx="320.1" cy="236.5" r="3.39" fill="#000"/>
<circle cx="344.5" cy="246.76" r="3.39" fill="#000"/>
<circle cx="368.9" cy="257.93" r="3.39" fill="#000"/>
<circle cx="393.3" cy="259.98" r="3.39" fill="#000"/>
<circle cx="417.7" cy="340.35" r="3.39" fill="#000"/>
<circle cx="442.1" cy="341.38" r="3.39" fill="#000"/>
<circle cx="466.5" cy="341.38" r="3.39" fill="#000"/>
<circle cx="490.9" cy="343.89" r="3.39" fill="#000"/>
<polygon points="320.1,232.66 323.62,239.06 316.58,239.06" fill="#000" stroke="#000" stroke-width="0.4" stroke-linejoin="round"/>
<polygon points="344.5,252.5 348.02,258.9 340.98,258.9" fill="#000" stroke="#000" stroke-width="0.4" stroke-linejoin="round"/>
<polygon points="368.9,278.83 372.42,285.23 365.38,285.23" fill="#000" stroke="#000" stroke-width="0.4" stroke-linejoin="round"/>
<polygon points="393.3,332.98 396.82,339.38 389.78,339.38" fill="#000" stroke="#000" stroke-width="0.4" stroke-linejoin="round"/>
<polygon points="417.7,337.54 421.22,343.94 414.18,343.94" fill="#000" stroke="#000" stroke-width="0.4" stroke-linejoin="round"/>
<polygon points="442.1,336.4 445.62,342.8 438.58,342.8" fill="#000" stroke="#000" stroke-width="0.4" stroke-linejoin="round"/>
<polygon points="466.5,336.4 470.02,342.8 462.98,342.8" fill="#000" stroke="#000" stroke-width="0.4" stroke-linejoin="round"/>
<polygon points="490.9,340.39 494.42,346.79 487.38,346.79" fill="#000" stroke="#000" stroke-width="0.4" stroke-linejoin="round"/>
<circle cx="320.1" cy="236.5" r="2.89" fill="#fff" stroke="#000" stroke-width="1.0"/>
<circle cx="344.5" cy="233.42" r="2.89" fill="#fff" stroke="#000" stroke-width="1.0"/>
<circle cx="368.9" cy="251.32" r="2.89" fill="#fff" stroke="#000" stroke-width="1.0"/>
<circle cx="393.3" cy="336.71" r="2.89" fill="#fff" stroke="#000" stroke-width="1.0"/>
<circle cx="417.7" cy="344.46" r="2.89" fill="#fff" stroke="#000" stroke-width="1.0"/>
<circle cx="442.1" cy="345.03" r="2.89" fill="#fff" stroke="#000" stroke-width="1.0"/>
<circle cx="466.5" cy="345.03" r="2.89" fill="#fff" stroke="#000" stroke-width="1.0"/>
<circle cx="490.9" cy="347.08" r="2.89" fill="#fff" stroke="#000" stroke-width="1.0"/>
<rect x="311.8" y="307" width="65.2" height="37.2" fill="#fff" stroke="#555" stroke-width="1"/>
<line x1="320.1" y1="313.3" x2="335.6" y2="313.3" stroke="#000" stroke-width="1.6"/>
<circle cx="327.85" cy="313.3" r="2" fill="#000"/>
<text transform="translate(337.4,315.8) scale(0.93,1)" font-size="7.2" text-anchor="start" font-weight="normal" stroke="#000" stroke-width="0.25" >PHA</text>
<line x1="320.1" y1="324.95" x2="335.6" y2="324.95" stroke="#000" stroke-width="1.6"/>
<polygon points="327.85,322.55 330.05,326.55 325.65,326.55" fill="#000" stroke="#000" stroke-width="0.4" stroke-linejoin="round"/>
<text transform="translate(337.4,327.45) scale(0.93,1)" font-size="7.2" text-anchor="start" font-weight="normal" stroke="#000" stroke-width="0.25" >Ion/PMA</text>
<line x1="320.1" y1="336.6" x2="335.6" y2="336.6" stroke="#000" stroke-width="1.6"/>
<circle cx="327.85" cy="336.6" r="1.6" fill="#fff" stroke="#000" stroke-width="0.8"/>
<text transform="translate(337.4,339.1) scale(0.93,1)" font-size="7.2" text-anchor="start" font-weight="normal" stroke="#000" stroke-width="0.25" >CD3/CD28</text>
</svg>
</body></html>
